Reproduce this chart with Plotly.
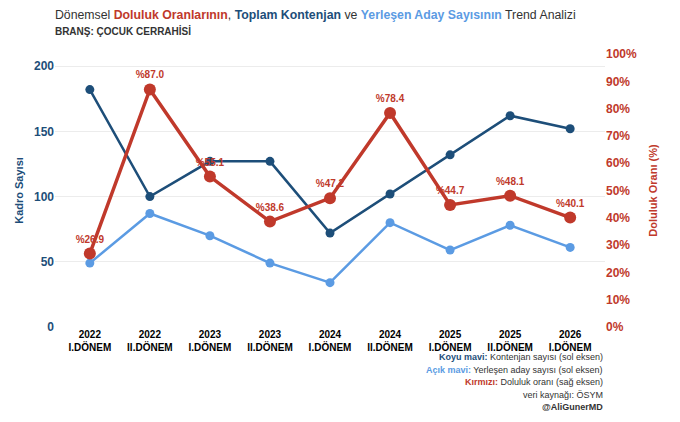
import plotly.graph_objects as go

donemler = ["2022<br>I.DÖNEM", "2022<br>II.DÖNEM", "2023<br>I.DÖNEM", "2023<br>II.DÖNEM",
            "2024<br>I.DÖNEM", "2024<br>II.DÖNEM", "2025<br>I.DÖNEM", "2025<br>II.DÖNEM",
            "2026<br>I.DÖNEM"]
kontenjan = [182, 100, 127, 127, 72, 102, 132, 162, 152]
yerlesen = [49, 87, 70, 49, 34, 80, 59, 78, 61]
doluluk = [26.9, 87.0, 55.1, 38.6, 47.2, 78.4, 44.7, 48.1, 40.1]

KOYU = "#1d4e79"
ACIK = "#5b9be3"
KIRMIZI = "#c0392b"
FONT = "Liberation Sans, Arial, sans-serif"

fig = go.Figure()

fig.add_trace(go.Scatter(
    x=donemler, y=kontenjan, mode="lines+markers", name="Kontenjan",
    line=dict(color=KOYU, width=2.5), marker=dict(size=9, color=KOYU),
))
fig.add_trace(go.Scatter(
    x=donemler, y=yerlesen, mode="lines+markers", name="Yerleşen",
    line=dict(color=ACIK, width=2.5), marker=dict(size=9, color=ACIK),
))
fig.add_trace(go.Scatter(
    x=donemler, y=doluluk, mode="lines+markers+text", name="Doluluk", yaxis="y2",
    line=dict(color=KIRMIZI, width=3.5), marker=dict(size=12, color=KIRMIZI),
    text=["%" + f"{v:.1f}" for v in doluluk], textposition="top center",
    textfont=dict(color=KIRMIZI, size=10, family=FONT, weight="bold"),
))

# sayfa 8px kenar boşluğu ile açılıyor, marjlar ona göre
fig.update_layout(
    width=680, height=422,
    margin=dict(l=47, r=83, t=46, b=103),
    plot_bgcolor="white", paper_bgcolor="white",
    showlegend=False,
    font=dict(family=FONT),
    title=dict(
        text="Dönemsel <span style='color:#c0392b'><b>Doluluk Oranlarının</b></span>, "
             "<span style='color:#1d4e79'><b>Toplam Kontenjan</b></span> ve "
             "<span style='color:#5b9be3'><b>Yerleşen Aday Sayısının</b></span> Trend Analizi"
             "<br><span style='font-size:10px;color:#333'><b>BRANŞ: ÇOCUK CERRAHİSİ</b></span>",
        x=0.069, xanchor="left", y=0.975, yanchor="top",
        font=dict(size=12.3, color="#333", family=FONT),
    ),
    xaxis=dict(
        range=[-0.58, 8.58], showgrid=False, showline=False, zeroline=False,
        automargin=False,
        tickfont=dict(size=10, color="black", family=FONT, weight="bold"),
    ),
    yaxis=dict(
        range=[0, 209.3], tickvals=[0, 50, 100, 150, 200],
        showgrid=True, gridcolor="#ececec", zeroline=False, automargin=False,
        tickfont=dict(size=12, color=KOYU, weight="bold"),
        title=dict(text="Kadro Sayısı", font=dict(size=11, color=KOYU, weight="bold"), standoff=8),
    ),
    yaxis2=dict(
        range=[0, 100], dtick=10, overlaying="y", side="right",
        showgrid=False, zeroline=False, automargin=False,
        tickfont=dict(size=12, color=KIRMIZI, weight="bold"), ticksuffix="%",
        title=dict(text="Doluluk Oranı (%)", font=dict(size=11, color=KIRMIZI, weight="bold"), standoff=13),
    ),
)

notlar = [
    "<b><span style='color:#1d4e79'>Koyu mavi:</span></b> Kontenjan sayısı (sol eksen)",
    "<b><span style='color:#5b9be3'>Açık mavi:</span></b> Yerleşen aday sayısı (sol eksen)",
    "<b><span style='color:#c0392b'>Kırmızı:</span></b> Doluluk oranı (sağ eksen)",
    "veri kaynağı: ÖSYM",
    "<b>@AliGunerMD</b>",
]
for i, t in enumerate(notlar):
    fig.add_annotation(
        text=t, xref="paper", yref="paper", x=1.0, y=-0.11 - i * 0.0458,
        xanchor="right", yanchor="middle", showarrow=False,
        font=dict(size=9, color="#333", family=FONT),
    )

fig.write_html("out.html")
